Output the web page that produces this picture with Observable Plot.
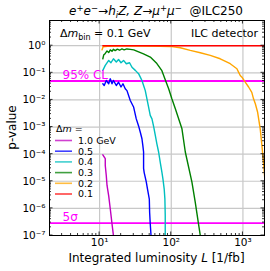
<!DOCTYPE html>
<html><head><meta charset="utf-8">
<script src="https://cdn.jsdelivr.net/npm/d3@7"></script>
<script src="https://cdn.jsdelivr.net/npm/@observablehq/plot@0.6"></script>
<style>
body{margin:0;background:#fff;}
svg{font-family:"DejaVu Sans",sans-serif;}
</style></head><body><div id="chart"></div>
<script>
// ---- data ----
const massLabels = ["1.0 GeV", "0.5", "0.4", "0.3", "0.2", "0.1"];
const massColors = ["#c000c0", "#0000ff", "#00bfbf", "#008000", "#ffa500", "#ff0000"];

const lumi_1p0 = [11.1, 12.0, 12.0, 12.4, 12.7, 13.4, 14.1, 14.9, 15.6, 16.5];
const pval_1p0 = [9.5e-5, 6.8e-5, 3.8e-5, 1.6e-5, 7e-6, 2.9e-6, 9.5e-7, 2.7e-7, 1e-7, 4e-8];

const lumi_0p5 = [11.1, 11.6, 12.4, 13.4, 14.1, 14.9, 15.6, 17.1, 18.4, 19.9, 21.2, 22.8, 24.1, 26.8, 29.8, 32.5, 35, 37, 39, 40.1, 41.1, 41.1, 41.9, 44.8, 46.7, 49.4, 49.9, 50.9, 52.2, 53];
const pval_0p5 = [0.0395, 0.034, 0.052, 0.0395, 0.06, 0.0395, 0.052, 0.034, 0.045, 0.03, 0.0395, 0.026, 0.022, 0.0095, 0.0055, 0.002, 0.0011, 6.4e-4, 3.7e-4, 2.1e-4, 1.2e-4, 3e-5, 2.1e-5, 9.5e-6, 5e-6, 2.2e-6, 7.2e-7, 2.7e-7, 1e-7, 5e-8];

const lumi_0p4 = [11.1, 12.0, 13.4, 14.4, 15.6, 17.1, 18.4, 19.9, 21.6, 23.6, 26.2, 28.3, 31.5, 35, 37, 39, 41.1, 43.4, 48.2, 50.9, 53.8, 57, 59.9, 63, 66.6, 70.2, 74.2, 76.6, 79.8, 81.5, 82.4, 82.4, 82.6];
const pval_0p4 = [0.123, 0.188, 0.287, 0.235, 0.33, 0.25, 0.31, 0.235, 0.287, 0.216, 0.235, 0.16, 0.123, 0.093, 0.069, 0.052, 0.034, 0.022, 0.0055, 0.0027, 0.002, 0.001, 4.9e-4, 2.4e-4, 1.2e-4, 5e-5, 2.1e-5, 1.2e-5, 5e-6, 2.2e-6, 5.5e-7, 1e-7, 5e-8];

const lumi_0p3 = [11.1, 11.4, 12.0, 12.7, 13.4, 14.1, 14.9, 15.6, 16.5, 17.7, 19, 20.5, 22, 24, 26.8, 30, 33, 41, 51, 63, 74, 80, 85, 92, 102, 114, 141, 157, 194, 216, 240, 254, 262];
const pval_0p3 = [0.33, 0.45, 0.52, 0.64, 0.56, 0.7, 0.62, 0.74, 0.66, 0.75, 0.68, 0.76, 0.7, 0.76, 0.73, 0.7, 0.63, 0.5, 0.38, 0.22, 0.12, 0.069, 0.045, 0.026, 0.011, 0.0047, 8.6e-4, 1.2e-4, 9.5e-6, 1.7e-6, 2.7e-7, 1e-7, 5e-8];

const lumi_0p2 = [10.8, 11.2, 13, 20, 40, 70, 96.8, 133.5, 184, 254, 350, 482, 665, 824, 869, 917, 969, 1077, 1200, 1330, 1406, 1490, 1600, 1743, 1840, 1938, 2036];
const pval_0p2 = [0.7, 0.92, 0.95, 0.97, 0.97, 0.96, 0.94, 0.84, 0.67, 0.55, 0.44, 0.33, 0.217, 0.142, 0.106, 0.08, 0.069, 0.045, 0.03, 0.019, 0.011, 0.0072, 0.0036, 8.6e-4, 2.1e-4, 5e-5, 9.5e-6];

const lumi_0p1 = [11.1, 2000];
const pval_0p1 = [1.0, 1.0];

const thresholdP = [0.05, 2.87e-7];
const thresholdLabels = ["95% CL", "5σ"];

const xTicks = [10, 100, 1000];
const yTicks = [1e-7, 1e-6, 1e-5, 1e-4, 1e-3, 1e-2, 1e-1, 1];
const xExp = ["1", "2", "3"];
const yExp = ["−7", "−6", "−5", "−4", "−3", "−2", "−1", "0"];

// ---- build ----
const seriesL = [lumi_1p0, lumi_0p5, lumi_0p4, lumi_0p3, lumi_0p2, lumi_0p1];
const seriesP = [pval_1p0, pval_0p5, pval_0p4, pval_0p3, pval_0p2, pval_0p1];
const sup = {"0":"⁰","1":"¹","2":"²","3":"³","4":"⁴","5":"⁵","6":"⁶","7":"⁷","8":"⁸","9":"⁹","−":"⁻"};
const toSup = s => [...s].map(c => sup[c]).join("");
const fmtX = v => "10" + toSup(xExp[xTicks.indexOf(v)]);
const fmtY = v => "10" + toSup(yExp[yTicks.indexOf(v)]);

const lineMarks = seriesL.map((L, i) => Plot.line(L.map((l, j) => ({L: l, p: seriesP[i][j]})), {
  x: "L", y: "p", stroke: massColors[i], strokeWidth: 1.4, clip: true
}));

const plot = Plot.plot({
  width: 270, height: 271,
  marginLeft: 49, marginRight: 6, marginTop: 20, marginBottom: 36,
  style: {fontFamily: "DejaVu Sans", background: "white", color: "black"},
  x: {type: "log", domain: [2, 2000]},
  y: {type: "log", domain: [1e-7, 8.5]},
  marks: [
    Plot.gridX(xTicks, {stroke: "#c8c8c8", strokeOpacity: 1, strokeWidth: 1.2}),
    Plot.gridY(yTicks, {stroke: "#c8c8c8", strokeOpacity: 1, strokeWidth: 1.2}),
    Plot.ruleY(thresholdP, {stroke: "#ff00ff", strokeWidth: 1.8}),
    ...lineMarks,
    Plot.text(thresholdP, {y: d => d, text: (d, i) => thresholdLabels[i], frameAnchor: "left", dx: 13, dy: -6, textAnchor: "start", fill: "#ff00ff", fontSize: 12}),
    Plot.axisX({ticks: xTicks, tickFormat: fmtX, tickSize: 0, tickPadding: 3, fontSize: 10.5, label: null}),
    Plot.axisY({ticks: yTicks, tickFormat: fmtY, tickSize: 0, tickPadding: 4, fontSize: 10.5, label: null}),
    Plot.frame({stroke: "black", strokeWidth: 1})
  ]
});
document.getElementById("chart").appendChild(plot);

// ---- ticks (inward, all four sides), title, labels, legend ----
const sx = plot.scale("x"), sy = plot.scale("y");
const svg = d3.select(plot);
const X0 = 49, X1 = 264, Y0 = 20, Y1 = 235;
const minorX = [], minorY = [];
for (let e = 0; e <= 3; e++) for (let m = 2; m <= 9; m++) { const v = m * 10 ** e; if (v > 2 && v < 2000) minorX.push(v); }
for (let e = -7; e <= 0; e++) for (let m = 2; m <= 9; m++) { const v = m * 10 ** e; if (v < 8.5) minorY.push(v); }
const tg = svg.append("g").attr("stroke", "black").attr("stroke-width", 0.8);
const tick = (vals, len, isX) => vals.forEach(v => {
  if (isX) {
    const x = sx.apply(v);
    tg.append("line").attr("x1", x).attr("x2", x).attr("y1", Y1).attr("y2", Y1 - len);
    tg.append("line").attr("x1", x).attr("x2", x).attr("y1", Y0).attr("y2", Y0 + len);
  } else {
    const y = sy.apply(v);
    tg.append("line").attr("y1", y).attr("y2", y).attr("x1", X0).attr("x2", X0 + len);
    tg.append("line").attr("y1", y).attr("y2", y).attr("x1", X1).attr("x2", X1 - len);
  }
});
tick(xTicks, 3.5, true); tick(minorX, 2, true);
tick(yTicks, 3.5, false); tick(minorY, 2, false);

// title
const t = svg.append("text").attr("x", 156).attr("y", 15).attr("text-anchor", "middle").attr("font-size", 12).attr("fill", "black");
const parts = [
  ["e", "i", 0], ["+", "", -4], ["e", "i", 4], ["−", "", -4], ["→", "", 4], ["h", "i", 0], ["i", "i", 2.5],
  ["Z, ", "i", -2.5], ["Z", "i", 0], ["→", "", 0], ["μ", "i", 0], ["+", "", -4], ["μ", "i", 4], ["−", "", -4], ["  @ILC250", "", 4]
];
parts.forEach(([s, st, dy]) => {
  const sp = t.append("tspan").text(s).attr("dy", dy);
  if (st === "i") sp.attr("font-style", "italic");
  if (s === "+" || s === "−" || (s === "i")) sp.attr("font-size", 8.5);
});

// Δm_bin annotation
const a = svg.append("text").attr("x", 60).attr("y", 37).attr("font-size", 11).attr("text-anchor", "start");
a.append("tspan").text("Δ");
a.append("tspan").text("m").attr("font-style", "italic");
a.append("tspan").text("bin").attr("font-size", 8).attr("dy", 2.5);
a.append("tspan").text(" = 0.1 GeV").attr("dy", -2.5);
svg.append("text").attr("x", 258).attr("y", 37).attr("text-anchor", "end").attr("font-size", 11).text("ILC detector");

// axis labels
const xl = svg.append("text").attr("x", 156.5).attr("y", 262).attr("text-anchor", "middle").attr("font-size", 12);
xl.append("tspan").text("Integrated luminosity ");
xl.append("tspan").text("L").attr("font-style", "italic");
xl.append("tspan").text(" [1/fb]");
svg.append("text").attr("transform", "translate(16,127.5) rotate(-90)").attr("text-anchor", "middle").attr("font-size", 12).text("p-value");

// legend
const lg = svg.append("g").attr("font-size", 9.5).attr("text-anchor", "start");
const h = lg.append("text").attr("x", 56).attr("y", 132);
h.append("tspan").text("Δ");
h.append("tspan").text("m").attr("font-style", "italic");
h.append("tspan").text(" =");
massLabels.forEach((lab, i) => {
  const y = 140.5 + i * 10.7;
  lg.append("line").attr("x1", 55).attr("x2", 72).attr("y1", y).attr("y2", y).attr("stroke", massColors[i]).attr("stroke-width", 1.6).attr("stroke-opacity", 0.75);
  lg.append("text").attr("x", 78).attr("y", y + 3.4).text(lab);
});
</script></body></html>
